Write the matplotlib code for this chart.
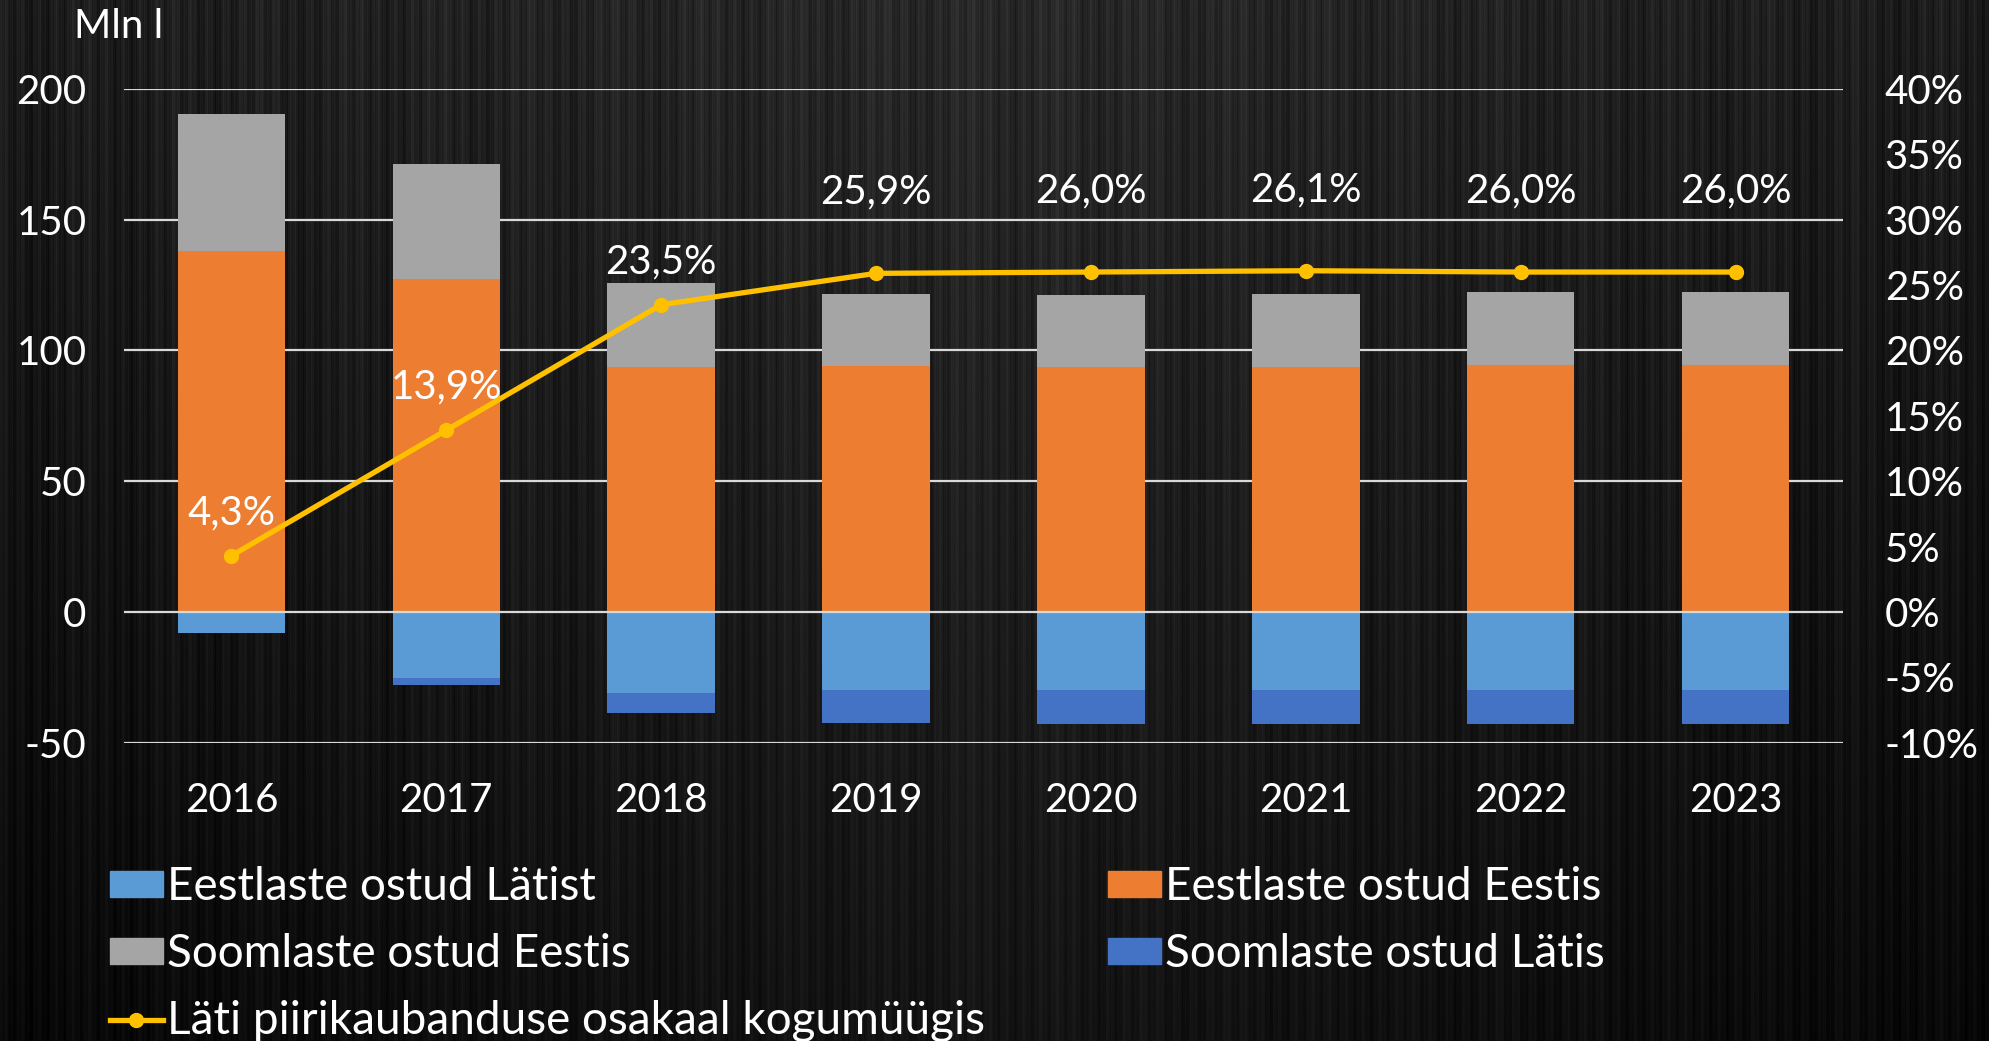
import matplotlib
matplotlib.use('Agg')
import matplotlib.pyplot as plt
import matplotlib.patches as mpatches
import matplotlib.lines as mlines
import numpy as np

years = ['2016', '2017', '2018', '2019', '2020', '2021', '2022', '2023']
eesti_latist = [-8.1, -25.2, -31.1, -29.8, -29.8, -29.8, -29.8, -29.8]       # Eestlaste ostud Lätist
soome_latis = [0.0, -2.6, -7.7, -12.8, -12.9, -13.2, -13.2, -13.2]          # Soomlaste ostud Lätis
eesti_eestis = [138.0, 127.3, 93.6, 94.2, 93.6, 93.8, 94.4, 94.4]           # Eestlaste ostud Eestis
soome_eestis = [52.4, 44.0, 32.3, 27.5, 27.7, 27.9, 27.9, 27.9]             # Soomlaste ostud Eestis
osakaal = [4.3, 13.9, 23.5, 25.9, 26.0, 26.1, 26.0, 26.0]                   # Läti piirikaubanduse osakaal, %

c_lblue = '#5B9BD5'
c_orange = '#ED7D31'
c_grey = '#A5A5A5'
c_dblue = '#4472C4'
c_yellow = '#FFC000'
c_grid = '#D9D9D9'

plt.rcParams['font.family'] = ['Lato', 'DejaVu Sans']
plt.rcParams['axes.unicode_minus'] = False
fs = 29
fs_leg = 33

W, H = 1990, 1041
fig = plt.figure(figsize=(W / 100, H / 100), dpi=100)

# brushed dark background
bg = fig.add_axes([0, 0, 1, 1], zorder=-10)
xx = np.arange(W)[None, :]
yy = np.arange(H)[:, None]
streak = (0.022 * np.sin(xx * 0.37) + 0.018 * np.sin(xx * 1.13 + 1.0)
          + 0.014 * np.sin(xx * 2.71 + 0.3) + 0.010 * np.sin(xx * 0.071 + 2.0))
base = 0.16 - 0.08 * (yy / H) - 0.10 * np.abs(xx - W / 2) / W
img = np.clip(base + streak * (1 - 0.4 * yy / H), 0, 1)
bg.imshow(img, cmap='gray', vmin=0, vmax=1, aspect='auto', interpolation='bilinear')
bg.axis('off')

ax = fig.add_axes([124 / W, 1 - 742.7 / H, (1843 - 124) / W, (742.7 - 89) / H])
ax.patch.set_alpha(0)
x = np.arange(len(years))
bw = 0.5

ax.bar(x, eesti_eestis, bw, color=c_orange, zorder=2)
ax.bar(x, soome_eestis, bw, bottom=eesti_eestis, color=c_grey, zorder=2)
ax.bar(x, eesti_latist, bw, color=c_lblue, zorder=2)
ax.bar(x, soome_latis, bw, bottom=eesti_latist, color=c_dblue, zorder=2)

for v in [-50, 50, 100, 150, 200]:
    ax.axhline(v, color=c_grid, lw=1.6, zorder=1)
ax.axhline(0, color=c_grid, lw=1.6, zorder=3)

ax.set_xlim(-0.5, len(years) - 0.5)
ax.set_ylim(-50, 200)
ax.set_yticks([-50, 0, 50, 100, 150, 200])
ax.set_xticks(x)
ax.set_xticklabels(years)
for s in ax.spines.values():
    s.set_visible(False)
ax.tick_params(axis='both', length=0, colors='white', labelsize=fs)
ax.tick_params(axis='y', pad=27)
ax.tick_params(axis='x', pad=28)

ax2 = ax.twinx()
ax2.set_ylim(-10, 40)
ax2.set_yticks(np.arange(-10, 41, 5))
ax2.set_yticklabels([f'{t}%' for t in range(-10, 41, 5)])
for s in ax2.spines.values():
    s.set_visible(False)
ax2.tick_params(axis='y', length=0, colors='white', labelsize=fs, pad=30)
ax2.plot(x, osakaal, color=c_yellow, lw=3.8, marker='o', markersize=10, zorder=5)

for i, v in enumerate(osakaal):
    off = 43 if i < 3 else 81
    ax2.annotate(f'{v:.1f}%'.replace('.', ','), (x[i], v), xytext=(0, off),
                 textcoords='offset pixels', ha='center', va='center',
                 color='white', fontsize=fs)

fig.text(74 / W, 1 - 27 / H, 'Mln l', color='white', fontsize=fs, ha='left', va='center')

h_lblue = mpatches.Patch(color=c_lblue)
h_orange = mpatches.Patch(color=c_orange)
h_grey = mpatches.Patch(color=c_grey)
h_dblue = mpatches.Patch(color=c_dblue)
h_line = mlines.Line2D([], [], color=c_yellow, lw=3.8, marker='o', markersize=10)

leg_kw = dict(frameon=False, fontsize=fs_leg, labelcolor='white', handlelength=1.15,
              handleheight=0.5, handletextpad=0.1, labelspacing=0.55,
              loc='upper left', borderaxespad=0, borderpad=0)
leg1 = fig.legend([h_lblue, h_grey, h_line],
                  ['Eestlaste ostud Lätist', 'Soomlaste ostud Eestis',
                   'Läti piirikaubanduse osakaal kogumüügis'],
                  bbox_to_anchor=(110 / W, 1 - 866 / H), **leg_kw)
leg2 = fig.legend([h_orange, h_dblue],
                  ['Eestlaste ostud Eestis', 'Soomlaste ostud Lätis'],
                  bbox_to_anchor=(1108 / W, 1 - 866 / H), **leg_kw)

fig.savefig('out.png', dpi=100)
